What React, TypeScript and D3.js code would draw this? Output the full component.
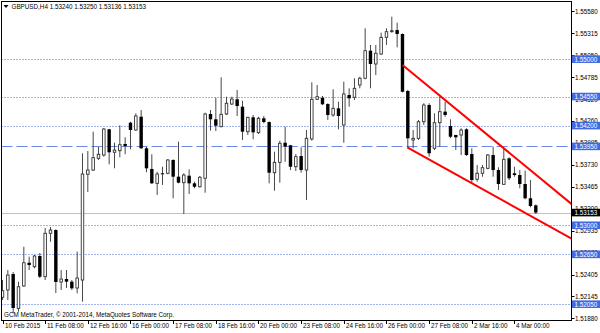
import React from "react";
import * as d3 from "d3";

// ---- data ----
const symbol = "GBPUSD,H4";
const copyright = "GCM MetaTrader, © 2001-2014, MetaQuotes Software Corp.";

// OHLC per H4 bar, index 0 = 10 Feb 2015 00:00
const opens = [
  1.52133, 1.52221, 1.52413, 1.52000, 1.52269, 1.52549, 1.52501, 1.52630, 1.52381, 1.52903,
  1.52943, 1.52317, 1.52353, 1.52321, 1.52245, 1.52341, 1.53614, 1.53665, 1.53806, 1.53846,
  1.54156, 1.53879, 1.53898, 1.53979, 1.54235, 1.54147, 1.54307, 1.53927, 1.53678, 1.53505,
  1.53626, 1.53626, 1.53786, 1.53585, 1.53513, 1.53597, 1.53505, 1.53464, 1.53566, 1.54340,
  1.54276, 1.54187, 1.54340, 1.54460, 1.54517, 1.54428, 1.54127, 1.54300, 1.54115, 1.54288,
  1.54243, 1.53633, 1.53758, 1.53994, 1.53963, 1.53705, 1.53834, 1.53665, 1.54039, 1.54517,
  1.54536, 1.54460, 1.54328, 1.54408, 1.54207, 1.54569, 1.54541, 1.54689, 1.54770, 1.55102,
  1.54942, 1.55062, 1.55263, 1.55331, 1.55351, 1.55303, 1.54617, 1.54027, 1.54047, 1.54247,
  1.54448, 1.53927, 1.54235, 1.54368, 1.54195, 1.54087, 1.54087, 1.54156, 1.53858, 1.53554,
  1.53626, 1.53686, 1.53846, 1.53665, 1.53493, 1.53806, 1.53626, 1.53605, 1.53497, 1.53325,
  1.53240,
];
const highs = [
  1.52341, 1.52461, 1.52437, 1.52321, 1.52742, 1.52622, 1.52642, 1.52666, 1.52967, 1.52979,
  1.52950, 1.52461, 1.52461, 1.52341, 1.52682, 1.53867, 1.53894, 1.54127, 1.53942, 1.54171,
  1.54160, 1.53994, 1.54204, 1.54059, 1.54247, 1.54348, 1.54388, 1.53946, 1.53855, 1.53645,
  1.53705, 1.53798, 1.53795, 1.54006, 1.53626, 1.53674, 1.53525, 1.53594, 1.54355, 1.54388,
  1.54536, 1.54782, 1.54548, 1.54548, 1.54629, 1.54500, 1.54305, 1.54328, 1.54307, 1.54316,
  1.54250, 1.53886, 1.54018, 1.54187, 1.53967, 1.53858, 1.53939, 1.54147, 1.54721, 1.54689,
  1.54557, 1.54469, 1.54637, 1.54488, 1.54729, 1.54649, 1.54770, 1.54789, 1.55372, 1.55171,
  1.55171, 1.55319, 1.55372, 1.55511, 1.55439, 1.55310, 1.54629, 1.54147, 1.54268, 1.54469,
  1.54469, 1.54348, 1.54548, 1.54488, 1.54276, 1.54090, 1.54168, 1.54168, 1.53927, 1.53726,
  1.53726, 1.53858, 1.53946, 1.53698, 1.53927, 1.53818, 1.53705, 1.53665, 1.53657, 1.53545,
  1.53250,
];
const lows = [
  1.52100, 1.52100, 1.51944, 1.51959, 1.52260, 1.52461, 1.52482, 1.52365, 1.52341, 1.52802,
  1.52184, 1.52221, 1.52245, 1.52221, 1.52181, 1.52080, 1.53401, 1.53655, 1.53786, 1.53826,
  1.53734, 1.53686, 1.53818, 1.53855, 1.53915, 1.54139, 1.53920, 1.53638, 1.53500, 1.53365,
  1.53485, 1.53614, 1.53325, 1.53505, 1.53136, 1.53377, 1.53445, 1.53456, 1.53392, 1.54139,
  1.54135, 1.54180, 1.54328, 1.54448, 1.54316, 1.54027, 1.54087, 1.54035, 1.54099, 1.54228,
  1.53505, 1.53416, 1.53513, 1.53765, 1.53665, 1.53653, 1.53633, 1.53304, 1.54018, 1.54508,
  1.54448, 1.54268, 1.54307, 1.54156, 1.53994, 1.54428, 1.54508, 1.54649, 1.54758, 1.54649,
  1.54809, 1.55050, 1.55171, 1.55319, 1.55143, 1.54600, 1.53939, 1.53927, 1.54027, 1.54207,
  1.53826, 1.53906, 1.53946, 1.54307, 1.54047, 1.53906, 1.53846, 1.53834, 1.53505, 1.53525,
  1.53585, 1.53674, 1.53585, 1.53425, 1.53485, 1.53545, 1.53585, 1.53445, 1.53313, 1.53216,
  1.53136,
];
const closes = [
  1.52212, 1.52401, 1.52004, 1.52260, 1.52549, 1.52522, 1.52630, 1.52381, 1.52903, 1.52943,
  1.52317, 1.52353, 1.52321, 1.52241, 1.52365, 1.53617, 1.53665, 1.53814, 1.53855, 1.54159,
  1.53879, 1.53906, 1.53970, 1.53954, 1.54147, 1.54316, 1.53927, 1.53686, 1.53505, 1.53617,
  1.53614, 1.53786, 1.53585, 1.53513, 1.53605, 1.53505, 1.53464, 1.53578, 1.54340, 1.54276,
  1.54199, 1.54336, 1.54469, 1.54520, 1.54436, 1.54127, 1.54300, 1.54119, 1.54288, 1.54243,
  1.53633, 1.53758, 1.53987, 1.53946, 1.53705, 1.53826, 1.53665, 1.54047, 1.54517, 1.54548,
  1.54457, 1.54328, 1.54408, 1.54316, 1.54581, 1.54529, 1.54649, 1.54770, 1.55102, 1.54942,
  1.55071, 1.55263, 1.55331, 1.55343, 1.55303, 1.54608, 1.54047, 1.54047, 1.54247, 1.54448,
  1.53867, 1.54235, 1.54368, 1.54328, 1.54066, 1.54059, 1.54147, 1.53846, 1.53545, 1.53626,
  1.53693, 1.53846, 1.53665, 1.53497, 1.53794, 1.53566, 1.53605, 1.53497, 1.53325, 1.53232,
  1.53153,
];

// time axis labels: [bar index, label]
const timeTickIndex = [0, 8, 16, 24, 32, 40, 48, 56, 64, 72, 80, 88, 96];
const timeTickLabels = [
  "10 Feb 2015", "11 Feb 08:00", "12 Feb 16:00", "16 Feb 00:00", "17 Feb 08:00",
  "18 Feb 16:00", "20 Feb 00:00", "23 Feb 08:00", "24 Feb 16:00", "26 Feb 00:00",
  "27 Feb 08:00", "2 Mar 16:00", "4 Mar 00:00",
];

// price axis ticks
const priceTicks = [
  1.5558, 1.55315, 1.5505, 1.54785, 1.5452, 1.5426, 1.53995, 1.5373,
  1.53465, 1.532, 1.52935, 1.5267, 1.52405, 1.52145, 1.5188,
];

// horizontal levels
const dottedLevels = [1.55, 1.5455, 1.542, 1.53, 1.5265, 1.5205];
const dashedLevels = [1.5395];
const bidPrice = 1.53153;

// trend lines: [index, price] start and second point (rays to the right)
const upperLine = [[75, 1.5493], [100, 1.5361]];
const lowerLine = [[75.9, 1.53939], [100, 1.53078]];

// ---- layout ----
const W = 600;
const H = 333;
const plotL = 1.5;
const plotT = 1.5;
const plotR = 571.5;
const plotB = 320.5;
const FONT = "'Liberation Sans', Arial, sans-serif";
const FS = 6.3;
const BLUE = "#4169E1";

export default function App() {
  const n = opens.length;
  const x = d3.scaleLinear().domain([0, 100]).range([2.5, 535.8]);
  const y = d3.scaleLinear().domain([1.5558, 1.5188]).range([11, 318.3]);
  const bodyW = 3.4;
  const fmt = (v: number) => v.toFixed(5);

  const candles = d3.range(n).map((i) => {
    const o = opens[i], c = closes[i], h = highs[i], l = lows[i];
    const cx = x(i);
    const bull = c >= o;
    const top = y(Math.max(o, c));
    const bot = y(Math.min(o, c));
    return (
      <g key={i}>
        <line x1={cx} x2={cx} y1={y(h)} y2={y(l)} stroke="#333" strokeWidth={0.9} />
        {bull ? (
          <rect x={cx - bodyW / 2 + 0.45} y={top} width={bodyW - 0.9} height={Math.max(bot - top, 0.8)}
            fill="#fff" stroke="#333" strokeWidth={0.9} />
        ) : (
          <rect x={cx - bodyW / 2} y={top} width={bodyW} height={Math.max(bot - top, 1)} fill="#000" />
        )}
      </g>
    );
  });

  const rayEnd = (pts: number[][]) => {
    const [a, b] = pts;
    const slope = (b[1] - a[1]) / (b[0] - a[0]);
    const iEnd = x.invert(plotR + 2);
    return { x1: x(a[0]), y1: y(a[1]), x2: x(iEnd), y2: y(a[1] + slope * (iEnd - a[0])) };
  };

  const last = n - 1;
  const header = `${symbol}  ${fmt(opens[last])} ${fmt(highs[last])} ${fmt(lows[last])} ${fmt(closes[last])}`;

  const boxLabel = (p: number, fill: string, key: string) => (
    <g key={key}>
      <rect x={572} y={y(p) - 3.8} width={28} height={7.6} fill={fill} />
      <text x={574.5} y={y(p)} dominantBaseline="central" fill="#fff" fontSize={FS} fontFamily={FONT}>
        {fmt(p)}
      </text>
    </g>
  );

  return (
    <svg width={W} height={H} style={{ position: "absolute", left: 0, top: 0, background: "#fff" }}>
      <defs>
        <clipPath id="plot">
          <rect x={plotL} y={plotT} width={plotR - plotL} height={plotB - plotT} />
        </clipPath>
      </defs>
      <rect x={0} y={0} width={W} height={H} fill="#fff" />
      <g clipPath="url(#plot)">
        {dottedLevels.map((p) => (
          <line key={"d" + p} x1={plotL} x2={plotR} y1={Math.round(y(p)) + 0.5} y2={Math.round(y(p)) + 0.5}
            stroke={BLUE} strokeWidth={1} strokeDasharray="1 2" />
        ))}
        {dashedLevels.map((p) => (
          <line key={"D" + p} x1={plotL} x2={plotR} y1={Math.round(y(p)) + 0.5} y2={Math.round(y(p)) + 0.5}
            stroke="#6a8ae6" strokeWidth={1} strokeDasharray="11 4" />
        ))}
        <line x1={plotL} x2={plotR} y1={Math.round(y(bidPrice)) + 0.5} y2={Math.round(y(bidPrice)) + 0.5}
          stroke="#c0c0c0" strokeWidth={1} />
        {candles}
        {[upperLine, lowerLine].map((pts, k) => {
          const r = rayEnd(pts);
          return <line key={"t" + k} {...r} stroke="#ff0000" strokeWidth={2} />;
        })}
        <text x={4} y={317} fontSize={FS} fontFamily={FONT} fill="#000">{copyright}</text>
      </g>
      {/* header */}
      <path d="M3.5,5 L8.5,5 L6,8 Z" fill="#000" />
      <text x={11.5} y={8.6} fontSize={FS} fontFamily={FONT} fill="#000">{header}</text>
      {/* frame */}
      <rect x={plotL} y={plotT} width={plotR - plotL} height={plotB - plotT} fill="none" stroke="#000" strokeWidth={1} />
      {/* price axis */}
      {priceTicks.map((p) => (
        <g key={"pt" + p}>
          <line x1={plotR} x2={plotR + 3} y1={Math.round(y(p)) + 0.5} y2={Math.round(y(p)) + 0.5} stroke="#000" />
          <text x={575} y={y(p)} dominantBaseline="central" fontSize={FS} fontFamily={FONT} fill="#000">
            {fmt(p)}
          </text>
        </g>
      ))}
      {dottedLevels.concat(dashedLevels).map((p) => boxLabel(p, BLUE, "b" + p))}
      {boxLabel(bidPrice, "#000", "bid")}
      {/* time axis */}
      {timeTickIndex.map((ti, k) => {
        const tx = Math.round(x(ti)) + 0.5;
        return (
          <g key={"tt" + ti}>
            <line x1={tx} x2={tx} y1={plotB} y2={plotB + 3.5} stroke="#000" />
            <text x={tx + 1.5} y={328.3} fontSize={FS} fontFamily={FONT} fill="#000">{timeTickLabels[k]}</text>
          </g>
        );
      })}
    </svg>
  );
}
